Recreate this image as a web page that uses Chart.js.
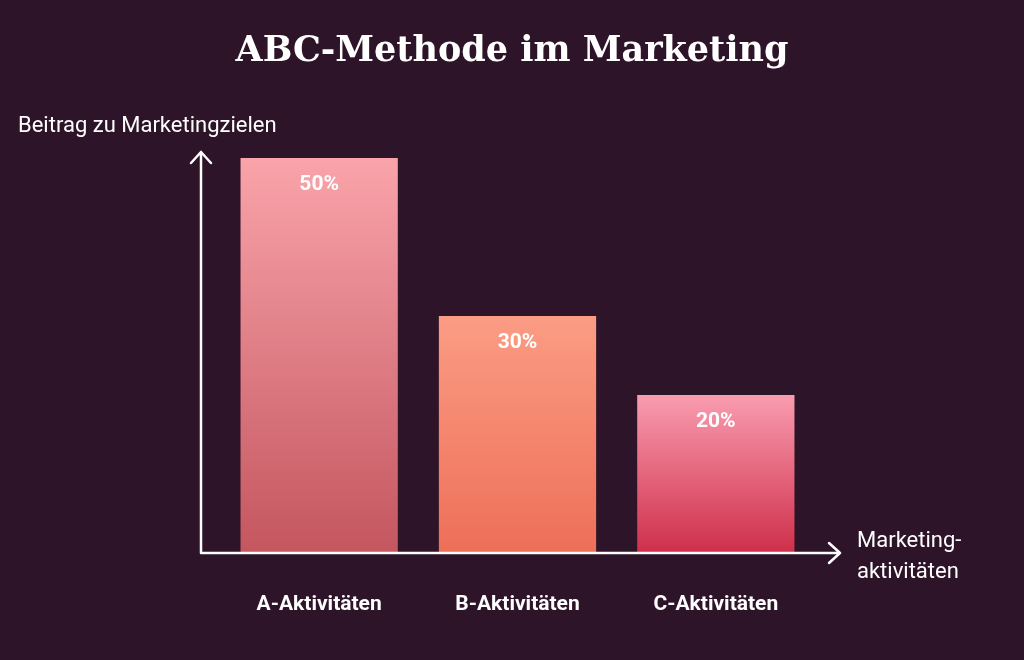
<!DOCTYPE html>
<html><head><meta charset="utf-8">
<script src="https://cdn.jsdelivr.net/npm/chart.js@4"></script>
<style>html,body{margin:0;background:#2e1429}canvas{display:block}</style>
</head><body>
<div style="width:1024px;height:660px"><canvas id="c"></canvas></div>
<script>
const categories = ["A-Aktivitäten", "B-Aktivitäten", "C-Aktivitäten"];
const values = [50, 30, 20];
const valueLabels = ["50%", "30%", "20%"];
const gradTop = ["#f9a4aa", "#fb9c84", "#f99cb0"];
const gradBottom = ["#c4565f", "#ee6f58", "#cf2f4a"];

const deco = {
  id: "deco",
  afterDraw(chart) {
    const ctx = chart.ctx, a = chart.chartArea, y = chart.scales.y, x = chart.scales.x;
    const y0 = y.getPixelForValue(0), ax = 201;
    ctx.save();
    ctx.strokeStyle = "#fff"; ctx.lineWidth = 2.5; ctx.lineCap = "round"; ctx.lineJoin = "round";
    ctx.beginPath(); ctx.moveTo(ax, y0); ctx.lineTo(ax, 152); ctx.moveTo(ax - 10, 163); ctx.lineTo(ax, 152); ctx.lineTo(ax + 10, 163);
    ctx.moveTo(ax, y0); ctx.lineTo(840, y0); ctx.moveTo(829, y0 - 10); ctx.lineTo(840, y0); ctx.lineTo(829, y0 + 10);
    ctx.stroke();
    ctx.fillStyle = "#fff";
    ctx.font = "bold 35px 'DejaVu Serif'"; ctx.textAlign = "center"; ctx.textBaseline = "middle";
    ctx.fillText("ABC-Methode im Marketing", 512, 52);
    ctx.font = "22px Roboto"; ctx.textAlign = "left";
    ctx.fillText("Beitrag zu Marketingzielen", 18, 126);
    ctx.fillText("Marketing-", 857, 541);
    ctx.fillText("aktivitäten", 857, 572);
    ctx.font = "bold 21px Roboto"; ctx.textAlign = "center";
    categories.forEach((c, i) => ctx.fillText(c, x.getPixelForValue(i), 605));
    ctx.font = "bold 21px Roboto";
    values.forEach((v, i) => ctx.fillText(valueLabels[i], x.getPixelForValue(i), y.getPixelForValue(v) + 27));
    ctx.restore();
  }
};

new Chart(document.getElementById("c"), {
  type: "bar",
  data: { labels: categories, datasets: [{ data: values,
    backgroundColor(ctx) {
      const a = ctx.chart.chartArea; if (!a) return gradTop[ctx.dataIndex];
      const top = ctx.chart.scales.y.getPixelForValue(values[ctx.dataIndex]);
      const g = ctx.chart.ctx.createLinearGradient(0, top, 0, a.bottom);
      g.addColorStop(0, gradTop[ctx.dataIndex]); g.addColorStop(1, gradBottom[ctx.dataIndex]);
      return g;
    },
    categoryPercentage: 1, barPercentage: 0.793 }] },
  options: {
    responsive: true, maintainAspectRatio: false, animation: false,
    layout: { padding: { left: 220, right: 209, top: 158, bottom: 107 } },
    plugins: { legend: { display: false }, tooltip: { enabled: false } },
    scales: { x: { display: false }, y: { display: false, min: 0, max: 50 } }
  },
  plugins: [deco]
});
</script>
</body></html>
